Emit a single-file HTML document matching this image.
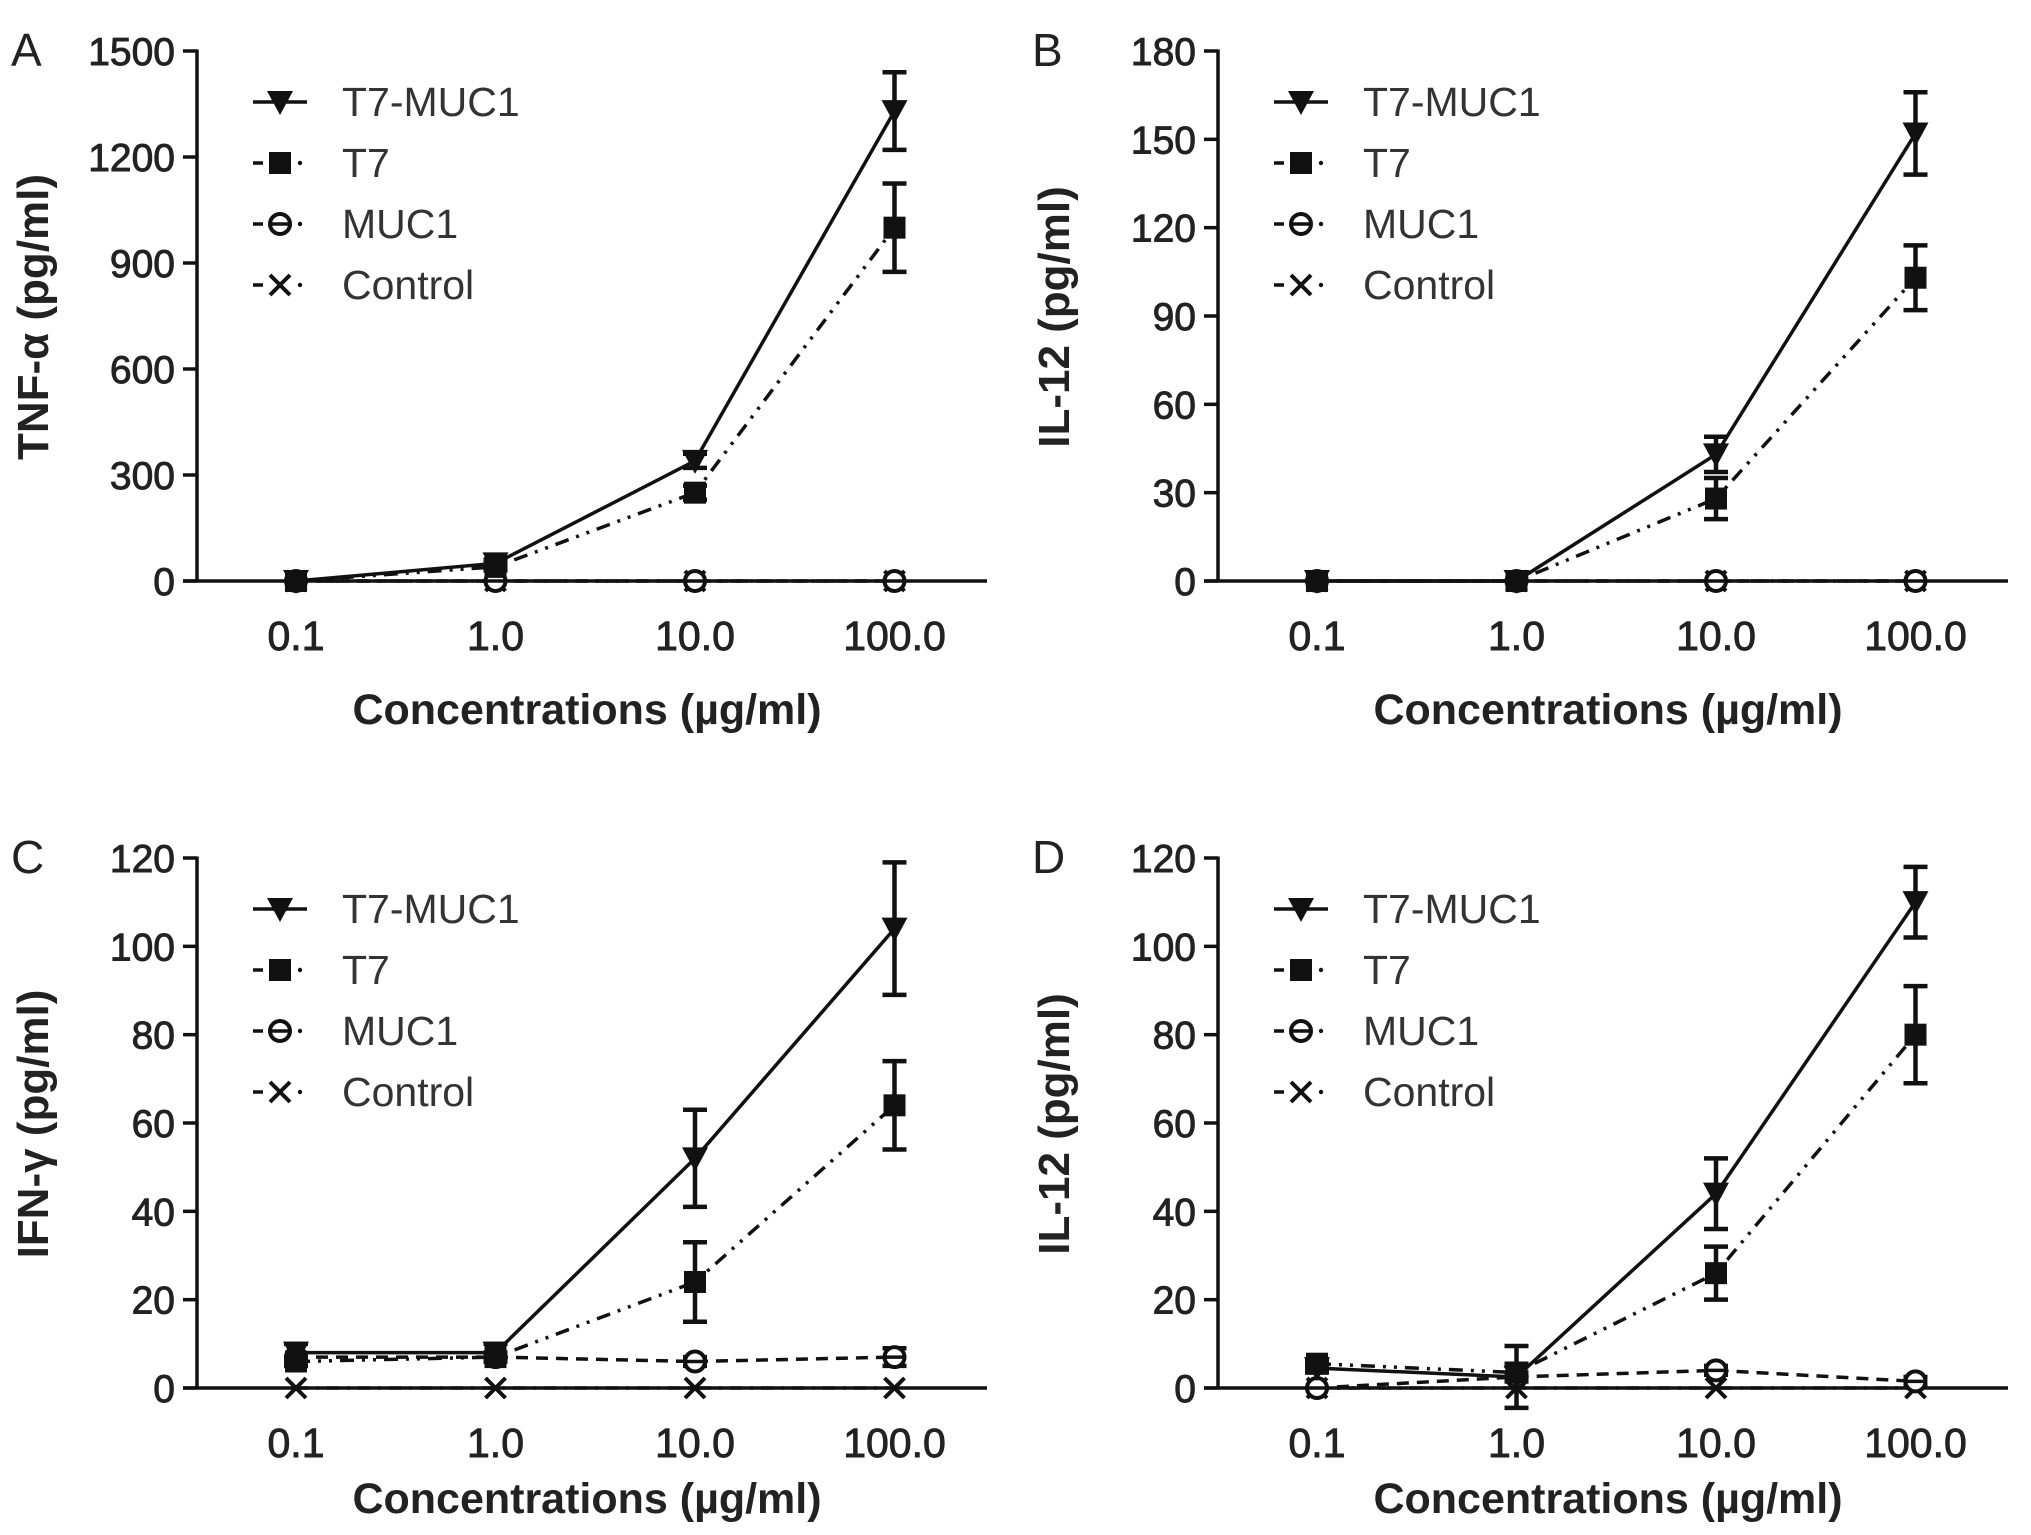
<!DOCTYPE html>
<html><head><meta charset="utf-8"><style>
html,body{margin:0;padding:0;background:#fff}
svg{display:block}
</style></head><body>
<svg id="fig" width="2031" height="1535" viewBox="0 0 2031 1535" xmlns="http://www.w3.org/2000/svg" font-family="Liberation Sans, Arial, sans-serif"></svg>
<script>
const categories = ["0.1", "1.0", "10.0", "100.0"];
const seriesNames = ["T7-MUC1", "T7", "MUC1", "Control"];
// Panel A TNF-a
const aTicks = [0, 300, 600, 900, 1200, 1500];
const aT7MUC1 = [0, 50, 340, 1330];
const aT7MUC1Err = [0, 10, 20, 110];
const aT7 = [0, 40, 250, 1000];
const aT7Err = [0, 10, 20, 125];
const aMUC1 = [0, 0, 0, 0];
const aMUC1Err = [0, 0, 0, 0];
const aControl = [0, 0, 0, 0];
// Panel B IL-12
const bTicks = [0, 30, 60, 90, 120, 150, 180];
const bT7MUC1 = [0, 0, 43, 152];
const bT7MUC1Err = [0, 0, 6, 14];
const bT7 = [0, 0, 28, 103];
const bT7Err = [0, 0, 7, 11];
const bMUC1 = [0, 0, 0, 0];
const bMUC1Err = [0, 0, 0, 0];
const bControl = [0, 0, 0, 0];
// Panel C IFN-g
const cTicks = [0, 20, 40, 60, 80, 100, 120];
const cT7MUC1 = [8, 8, 52, 104];
const cT7MUC1Err = [2, 2, 11, 15];
const cT7 = [6, 7, 24, 64];
const cT7Err = [1, 1, 9, 10];
const cMUC1 = [7, 7, 6, 7];
const cMUC1Err = [0, 0, 1, 2];
const cControl = [0, 0, 0, 0];
// Panel D IL-12
const dTicks = [0, 20, 40, 60, 80, 100, 120];
const dT7MUC1 = [4.5, 2.5, 44, 110];
const dT7MUC1Err = [1, 7, 8, 8];
const dT7 = [5.5, 3.5, 26, 80];
const dT7Err = [1, 2, 6, 11];
const dMUC1 = [0, 2.5, 4, 1.5];
const dMUC1Err = [0, 1, 1, 1];
const dControl = [0, 0, 0, 0];

const NS = "http://www.w3.org/2000/svg";
const svg = document.getElementById('fig');
function mk(tag, attrs, parent) {
  const e = document.createElementNS(NS, tag);
  for (const k in attrs) e.setAttribute(k, attrs[k]);
  (parent || svg).appendChild(e);
  return e;
}
const dashes = ["", "14 8 3 8 3 8", "12 8", "12 8 3 8"];

function marker(g, type, x, y) {
  let m;
  if (type === 0) {
    m = mk('path', {d: `M${x-13},${y-11} L${x+13},${y-11} L${x},${y+13} Z`, fill: '#111'}, g);
  } else if (type === 1) {
    m = mk('rect', {x: x-11, y: y-11, width: 22, height: 22, fill: '#111'}, g);
  } else if (type === 2) {
    m = mk('g', {}, g);
    mk('circle', {cx: x, cy: y, r: 10, fill: '#fff', stroke: '#111', 'stroke-width': 4}, m);
    mk('line', {x1: x-10, y1: y, x2: x+10, y2: y, stroke: '#111', 'stroke-width': 3.5}, m);
  } else {
    m = mk('path', {d: `M${x-10},${y-10} L${x+10},${y+10} M${x+10},${y-10} L${x-10},${y+10}`, stroke: '#111', 'stroke-width': 4}, g);
  }
  return m;
}

function panel(p) {
  const g = mk('g', {});
  
  
  const ax = p.ax, y0 = p.y0, H = 530, W = 790;
  const ymax = p.ticks[p.ticks.length - 1];
  const Y = v => y0 - v / ymax * H;
  const X = i => ax + 99 + i * 199.5;

  const lt = mk('text', {x: p.ax - 186, y: y0 - 530 + 15, 'font-size': 46, fill: '#222'}, g);
  lt.textContent = p.letter;
  
  

  const yaxis = mk('line', {x1: ax, y1: Y(ymax) - 1.5, x2: ax, y2: y0 + 1.5, stroke: '#111', 'stroke-width': 3.5}, g);
  
  
  const xaxis = mk('line', {x1: ax - 14, y1: y0, x2: ax + W, y2: y0, stroke: '#111', 'stroke-width': 3.5}, g);
  
  
  p.ticks.forEach(t => {
    mk('line', {x1: ax - 14, y1: Y(t), x2: ax, y2: Y(t), stroke: '#111', 'stroke-width': 3.5}, g);
    const tx = mk('text', {x: ax - 22, y: Y(t) + 14, 'font-size': 39, 'text-anchor': 'end', fill: '#222', stroke: '#222', 'stroke-width': 0.9}, g);
    tx.textContent = t;
    
    
  });
  categories.forEach((c, i) => {
    const tx = mk('text', {x: X(i), y: y0 + 69, 'font-size': 41, 'text-anchor': 'middle', fill: '#222', stroke: '#222', 'stroke-width': 0.9}, g);
    tx.textContent = c;
    
    
  });
  const xt = mk('text', {x: ax + 390, y: y0 + p.xtOff, 'font-size': 43, 'font-weight': 'bold', 'text-anchor': 'middle', fill: '#222'}, g);
  xt.textContent = 'Concentrations (\u00b5g/ml)';
  
  
  const yt = mk('text', {x: 0, y: 0, 'font-size': 44, 'font-weight': 'bold', 'text-anchor': 'middle', fill: '#222', transform: `translate(${ax - 149},${y0 - 264}) rotate(-90)`}, g);
  yt.textContent = p.ytitle;
  
  

  for (let s = 3; s >= 0; s--) {
    const vals = p.series[s], errs = p.errs[s];
    const sg = mk('g', {}, g);
    
    
    const pts = vals.map((v, i) => `${X(i)},${Y(v)}`).join(' ');
    const pl = mk('polyline', {points: pts, fill: 'none', stroke: '#111', 'stroke-width': 3.5, 'stroke-dasharray': dashes[s]}, sg);
    
    
    vals.forEach((v, i) => {
      const e = errs ? errs[i] : 0;
      if (e > 0) {
        const eb = mk('path', {d: `M${X(i)},${Y(v + e)} L${X(i)},${Y(v - e)} M${X(i) - 12},${Y(v + e)} L${X(i) + 12},${Y(v + e)} M${X(i) - 12},${Y(v - e)} L${X(i) + 12},${Y(v - e)}`, stroke: '#111', 'stroke-width': 4.5, fill: 'none'}, sg);
        
        
      }
      const m = marker(sg, s, X(i), Y(v));
      
      
    });
  }

  const lg = mk('g', {}, g);
  
  
  seriesNames.forEach((n, s) => {
    const ly = y0 - 530 + 51 + s * 61;
    const eg = mk('g', {}, lg);
    
    
    if (s === 0) {
      mk('line', {x1: ax + 56, y1: ly, x2: ax + 110, y2: ly, stroke: '#111', 'stroke-width': 3.5}, eg);
    } else {
      mk('line', {x1: ax + 56, y1: ly, x2: ax + 66, y2: ly, stroke: '#111', 'stroke-width': 3.5}, eg);
      mk('circle', {cx: ax + 103, cy: ly, r: 2.2, fill: '#111'}, eg);
    }
    marker(eg, s, ax + 83, ly);
    const tx = mk('text', {x: ax + 145, y: ly + 14, 'font-size': 41, fill: '#333'}, eg);
    tx.textContent = n;
  });
}

panel({letter: 'A', ax: 197, y0: 581, ticks: aTicks, ytitle: 'TNF-\u03b1 (pg/ml)', xtOff: 143,
  series: [aT7MUC1, aT7, aMUC1, aControl], errs: [aT7MUC1Err, aT7Err, aMUC1Err, null]});
panel({letter: 'B', ax: 1218, y0: 581, ticks: bTicks, ytitle: 'IL-12 (pg/ml)', xtOff: 143,
  series: [bT7MUC1, bT7, bMUC1, bControl], errs: [bT7MUC1Err, bT7Err, bMUC1Err, null]});
panel({letter: 'C', ax: 197, y0: 1388, ticks: cTicks, ytitle: 'IFN-\u03b3 (pg/ml)', xtOff: 125,
  series: [cT7MUC1, cT7, cMUC1, cControl], errs: [cT7MUC1Err, cT7Err, cMUC1Err, null]});
panel({letter: 'D', ax: 1218, y0: 1388, ticks: dTicks, ytitle: 'IL-12 (pg/ml)', xtOff: 125,
  series: [dT7MUC1, dT7, dMUC1, dControl], errs: [dT7MUC1Err, dT7Err, dMUC1Err, null]});
</script>
</body></html>
